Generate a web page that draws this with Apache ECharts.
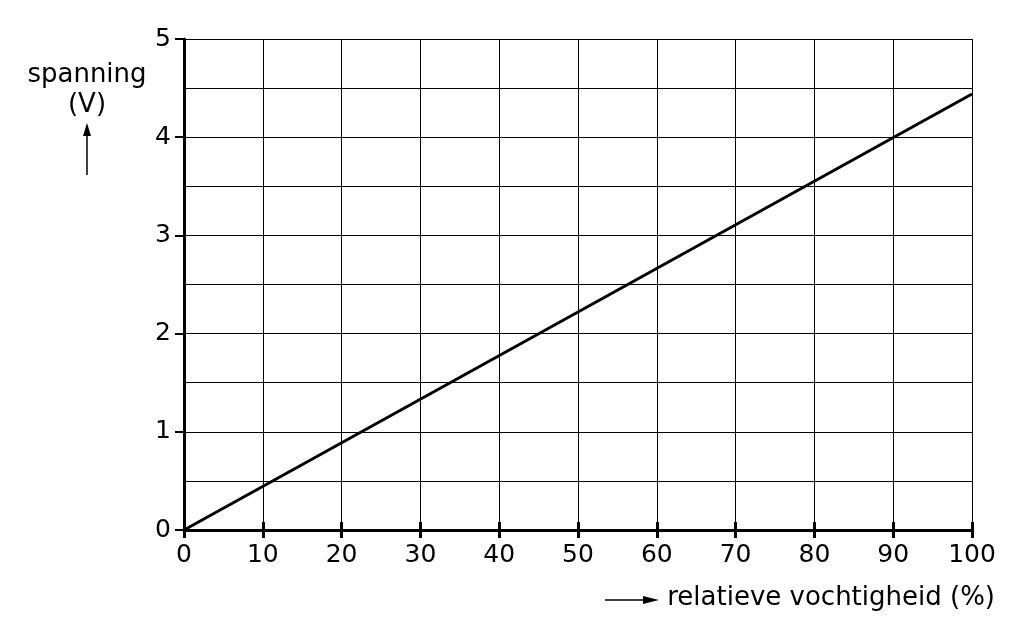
<!DOCTYPE html>
<html><head><meta charset="utf-8">
<script src="https://cdn.jsdelivr.net/npm/echarts@6/dist/echarts.min.js"></script>
<style>html,body{margin:0;padding:0;background:#fff}#c{width:1021px;height:636px}</style>
</head><body><div id="c"></div>
<script>
const xValues = [0, 100];
const yValues = [0, 4.44];
const xTicks = [0,10,20,30,40,50,60,70,80,90,100];
const yTicks = [0,1,2,3,4,5];
const yName = ['spanning', '(V)'];
const xName = 'relatieve vochtigheid (%)';

const FONT = 'DejaVu Sans';
const chart = echarts.init(document.getElementById('c'));
const lineData = xValues.map((x, i) => [x, yValues[i]]);
chart.setOption({
  animation: false,
  grid: { left: 184, right: 49, top: 39, bottom: 106 },
  xAxis: [{
    type: 'value', min: xTicks[0], max: xTicks[xTicks.length-1], interval: 10, position: 'bottom',
    axisLine: { show: true, onZero: false, lineStyle: { color: '#000', width: 3 } },
    axisTick: { show: true, inside: false, length: 8, lineStyle: { color: '#000', width: 3 } },
    axisLabel: { color: '#000', fontSize: 25, fontFamily: FONT, margin: 13 },
    splitLine: { show: true, lineStyle: { color: '#000', width: 1 } }
  }, {
    type: 'value', min: xTicks[0], max: xTicks[xTicks.length-1], interval: 10, position: 'bottom',
    axisLine: { show: false },
    axisTick: { show: true, inside: true, length: 8, lineStyle: { color: '#000', width: 3 } },
    axisLabel: { show: false }, splitLine: { show: false }
  }],
  yAxis: {
    type: 'value', min: yTicks[0], max: yTicks[yTicks.length-1], interval: 1,
    axisLine: { show: true, onZero: false, lineStyle: { color: '#000', width: 3 } },
    axisTick: { show: true, inside: false, length: 9, lineStyle: { color: '#000', width: 2 } },
    axisLabel: { color: '#000', fontSize: 25, fontFamily: FONT, margin: 13 },
    splitLine: { show: true, lineStyle: { color: '#000', width: 1 } },
    minorTick: { show: false, splitNumber: 2 },
    minorSplitLine: { show: true, lineStyle: { color: '#000', width: 1 } }
  },
  series: [{
    type: 'line', data: lineData, showSymbol: false, symbol: 'none',
    lineStyle: { color: '#000', width: 3 }, z: 5
  }],
  graphic: [
    { type: 'text', x: 87, y: 75, style: { text: yName[0], font: '26px "' + FONT + '"', fill: '#000', align: 'center', verticalAlign: 'middle' } },
    { type: 'text', x: 87, y: 105, style: { text: yName[1], font: '26px "' + FONT + '"', fill: '#000', align: 'center', verticalAlign: 'middle' } },
    { type: 'line', shape: { x1: 87, y1: 175, x2: 87, y2: 133 }, style: { stroke: '#000', lineWidth: 1.5 } },
    { type: 'polygon', shape: { points: [[87,123],[83,136],[91,136]] }, style: { fill: '#000' } },
    { type: 'text', x: 995, y: 598, style: { text: xName, font: '26px "' + FONT + '"', fill: '#000', align: 'right', verticalAlign: 'middle' } },
    { type: 'line', shape: { x1: 605, y1: 600, x2: 646, y2: 600 }, style: { stroke: '#000', lineWidth: 1.5 } },
    { type: 'polygon', shape: { points: [[659,600],[643,596],[643,604]] }, style: { fill: '#000' } }
  ]
});
</script></body></html>
